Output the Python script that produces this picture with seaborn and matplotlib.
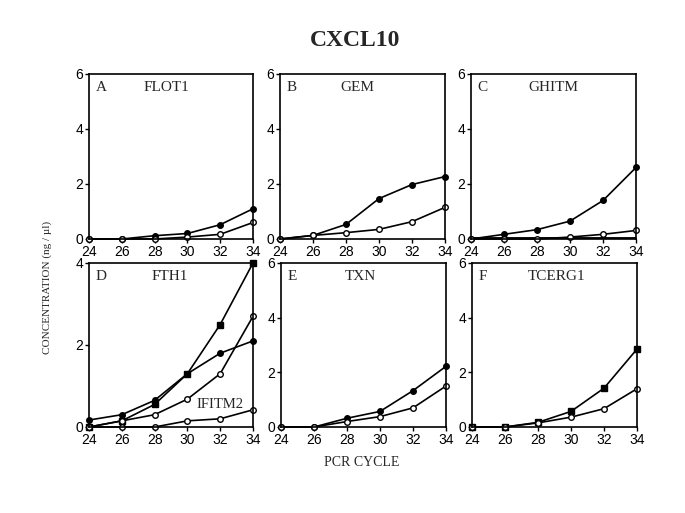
import matplotlib
matplotlib.use("Agg")
import matplotlib.pyplot as plt
import seaborn as sns

sns.set_style("ticks")
plt.rcParams['font.family'] = ['Liberation Sans', 'DejaVu Sans']

cycles = [24, 26, 28, 30, 32, 34]

# panel A - FLOT1
flot1_filled = [0, 0, 0.12, 0.2, 0.52, 1.1]
flot1_open = [0, 0, 0, 0.07, 0.17, 0.6]
# panel B - GEM
gem_filled = [0, 0.13, 0.53, 1.47, 1.98, 2.27]
gem_open = [0, 0.13, 0.23, 0.35, 0.63, 1.15]
# panel C - GHITM
ghitm_filled = [0, 0.17, 0.34, 0.65, 1.4, 2.6]
ghitm_open = [0, 0, 0, 0.07, 0.17, 0.31]
ghitm_base = [0, 0, 0, 0, 0, 0]
# panel D - FTH1 / IFITM2
fth1_a = [0, 0.15, 0.55, 1.3, 2.5, 4.0]
fth1_b = [0.17, 0.3, 0.65, 1.3, 1.8, 2.1]
fth1_c = [0, 0.15, 0.3, 0.68, 1.3, 2.7]
ifitm2 = [0, 0, 0, 0.15, 0.2, 0.42]
# panel E - TXN
txn_filled = [0, 0, 0.32, 0.57, 1.33, 2.22]
txn_open = [0, 0, 0.2, 0.38, 0.7, 1.5]
# panel F - TCERG1
tcerg1_filled = [0, 0, 0.17, 0.57, 1.42, 2.85]
tcerg1_open = [0, 0, 0.15, 0.36, 0.67, 1.4]

letters = ["A", "B", "C", "D", "E", "F"]
genes = ["FLOT1", "GEM", "GHITM", "FTH1", "TXN", "TCERG1"]
gene_x = [0.475, 0.47, 0.50, 0.49, 0.48, 0.515]

W, H = 685, 513
fig = plt.figure(figsize=(6.85, 5.13), dpi=100)


def box(l, t, r, b):
    return [l / W, 1 - b / H, (r - l) / W, (b - t) / H]


boxes = [box(89, 74, 253, 239), box(280, 74, 445, 239), box(471, 74, 636, 239),
         box(89, 263, 253, 427), box(281, 263, 446, 427), box(472, 263, 637, 427)]

series = [
    [(flot1_filled, 'o', 'black'), (flot1_open, 'o', 'white')],
    [(gem_filled, 'o', 'black'), (gem_open, 'o', 'white')],
    [(ghitm_filled, 'o', 'black'), (ghitm_open, 'o', 'white')],
    [(fth1_a, 's', 'black'), (fth1_b, 'o', 'black'), (fth1_c, 'o', 'white'),
     (ifitm2, 'o', 'white')],
    [(txn_filled, 'o', 'black'), (txn_open, 'o', 'white')],
    [(tcerg1_filled, 's', 'black'), (tcerg1_open, 'o', 'white')],
]

serif = 'Liberation Serif'
for i, rect in enumerate(boxes):
    ax = fig.add_axes(rect)
    if i == 2:
        sns.lineplot(x=cycles, y=ghitm_base, ax=ax, color='black', linewidth=3.5)
    for vals, mk, fc in series[i]:
        sns.lineplot(x=cycles, y=vals, ax=ax, color='black', linewidth=1.2,
                     marker=mk, markersize=4, markerfacecolor=fc,
                     markeredgecolor='black', markeredgewidth=1, clip_on=False)
    ax.set_xlim(24, 34)
    if i == 3:
        ax.set_ylim(0, 4)
        ax.set_yticks([0, 2, 4])
        ax.text(32.0, 0.54, "IFITM2", family=serif, fontsize=10.5, ha='center', va='center')
    else:
        ax.set_ylim(0, 6)
        ax.set_yticks([0, 2, 4, 6])
    ax.set_xticks(cycles)
    ax.tick_params(direction='out', length=3, width=1, labelsize=10, pad=1, colors='black')
    for s in ax.spines.values():
        s.set_visible(True)
        s.set_linewidth(1.2)
        s.set_color('black')
    ax.text(0.04, 0.92, letters[i], transform=ax.transAxes, family=serif, fontsize=11,
            va='center', ha='left')
    ax.text(gene_x[i], 0.92, genes[i], transform=ax.transAxes, family=serif, fontsize=11,
            va='center', ha='center')

fig.text(355 / W, 1 - 41 / H, "CXCL10", family=serif, fontsize=17, fontweight='bold',
         ha='center', va='center')
fig.text(362 / W, 1 - 462 / H, "PCR CYCLE", family=serif, fontsize=10,
         ha='center', va='center')
fig.text(47 / W, 1 - 287 / H, "CONCENTRATION (ng / µl)", family=serif, fontsize=8,
         rotation=90, ha='center', va='center')

fig.savefig("out.png", dpi=100)
